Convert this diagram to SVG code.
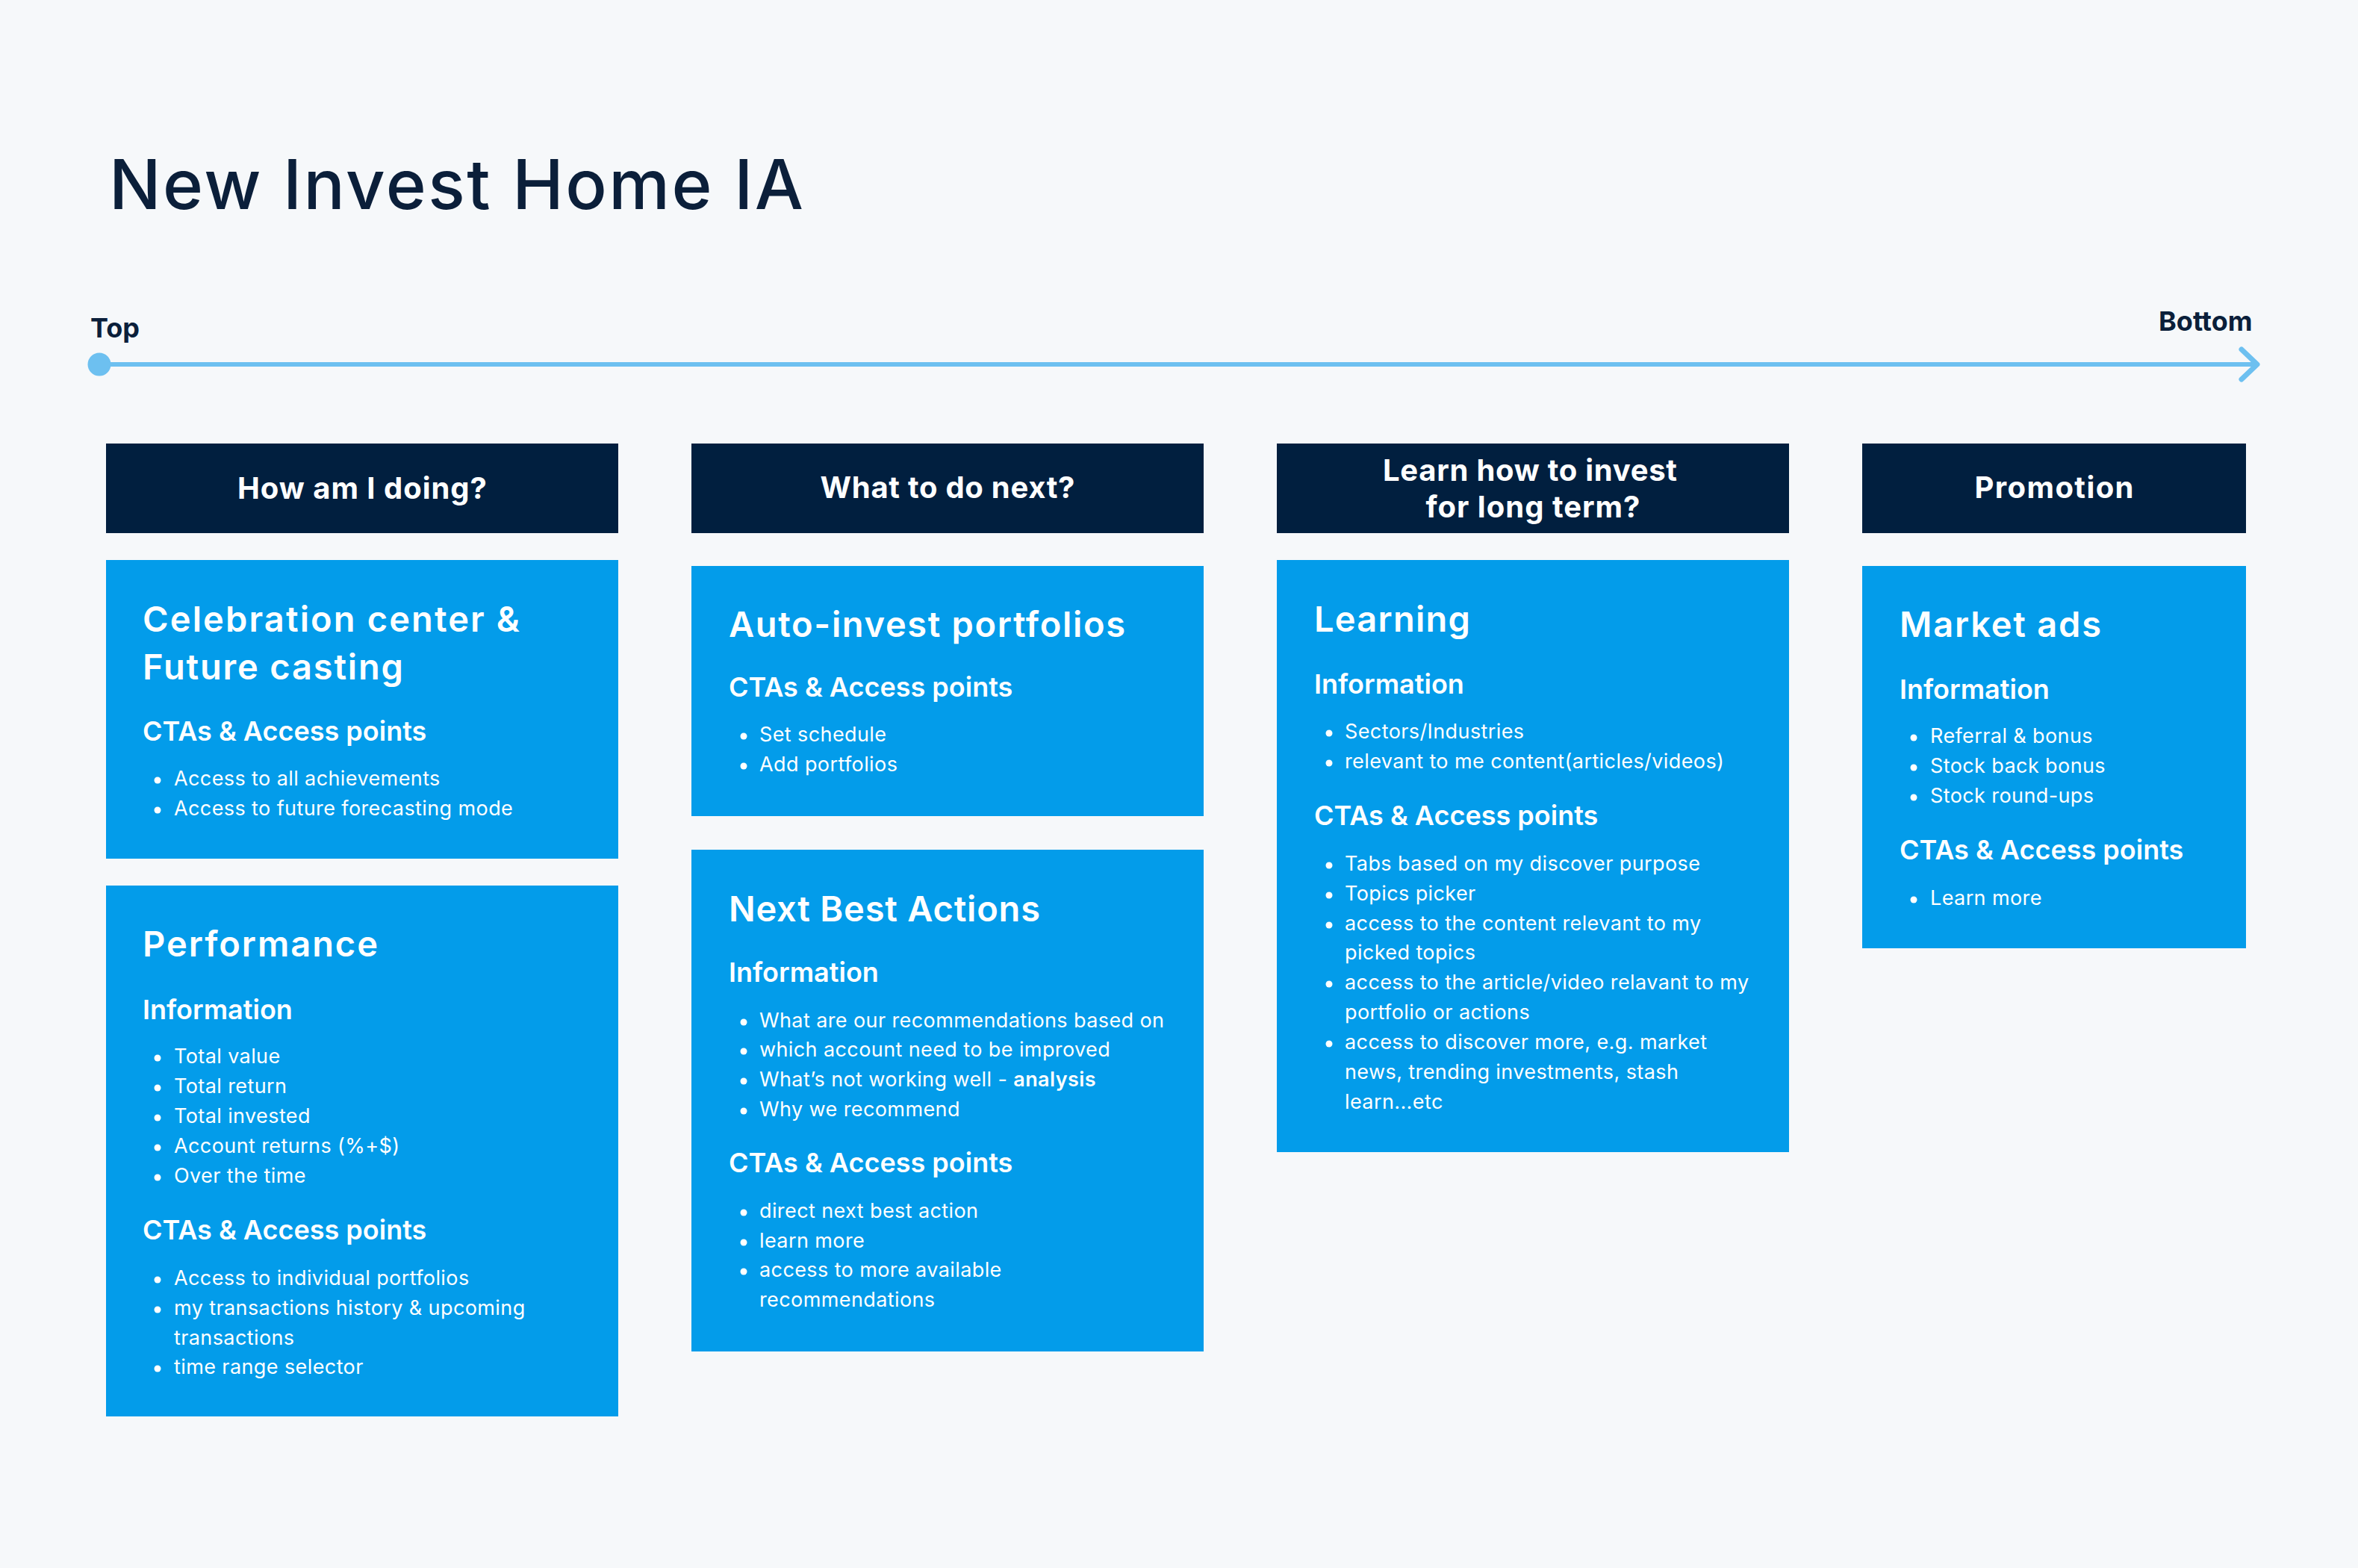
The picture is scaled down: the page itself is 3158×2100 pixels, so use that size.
<svg xmlns="http://www.w3.org/2000/svg" width="3158" height="2100" viewBox="0 0 3158 2100">
<style>
.hdr{fill:#011F3F}
.card{fill:#039CEA}
.ht{font-family:Inter,"Open Sans",sans-serif;font-weight:700;font-size:40px;fill:#fff;text-anchor:middle}
.ct{font-family:Inter,"Open Sans",sans-serif;font-weight:600;font-size:47px;fill:#fff}
.st{font-family:Inter,"Open Sans",sans-serif;font-weight:600;font-size:36px;fill:#fff}
.bt{font-family:Inter,"Open Sans",sans-serif;font-weight:400;font-size:27px;letter-spacing:0.4px;fill:#fff}
.b{font-weight:600}
.dot{fill:#fff}
.lbl{font-family:Inter,"Open Sans",sans-serif;font-weight:700;font-size:36px;fill:#0B1F3A}
</style>
<rect width="3158" height="2100" fill="#F6F8FA"/>
<text x="146" y="280" font-family="Inter,'Liberation Sans',sans-serif" font-size="92" font-weight="500" fill="#0B1F3A" textLength="930" lengthAdjust="spacing">New Invest Home IA</text>

<g id="timeline">
<text class="lbl" x="121" y="452">Top</text>
<text class="lbl" x="2891" y="443">Bottom</text>
<line x1="133" y1="488" x2="3022" y2="488" stroke="#6DC0F0" stroke-width="6"/>
<polyline points="3002,468 3023,488 3002,508" fill="none" stroke="#6DC0F0" stroke-width="7" stroke-linecap="round" stroke-linejoin="round"/>
<circle cx="133" cy="488" r="15.5" fill="#6DC0F0"/>
</g>

<g id="h1"><rect class="hdr" x="142" y="594" width="686" height="120"/><text class="ht" x="485" y="668" textLength="334" lengthAdjust="spacing">How am I doing?</text></g>
<g id="h2"><rect class="hdr" x="926" y="594" width="686" height="120"/><text class="ht" x="1269" y="667" textLength="341" lengthAdjust="spacing">What to do next?</text></g>
<g id="h3"><rect class="hdr" x="1710" y="594" width="686" height="120"/><text class="ht" x="2049" y="644" textLength="394" lengthAdjust="spacing">Learn how to invest</text><text class="ht" x="2053" y="693" textLength="287" lengthAdjust="spacing">for long term?</text></g>
<g id="h4"><rect class="hdr" x="2494" y="594" width="514" height="120"/><text class="ht" x="2751" y="667" textLength="213" lengthAdjust="spacing">Promotion</text></g>

<g id="celebration">
<rect class="card" x="142" y="750" width="686" height="400"/>
<text class="ct" x="191" y="846" textLength="505" lengthAdjust="spacing">Celebration center &amp;</text>
<text class="ct" x="191" y="910" textLength="349" lengthAdjust="spacing">Future casting</text>
<text class="st" x="191" y="992">CTAs &amp; Access points</text>
<circle class="dot" cx="211" cy="1045" r="4.5"/><text class="bt" x="233" y="1052">Access to all achievements</text>
<circle class="dot" cx="211" cy="1085" r="4.5"/><text class="bt" x="233" y="1092">Access to future forecasting mode</text>
</g>

<g id="performance">
<rect class="card" x="142" y="1186" width="686" height="711"/>
<text class="ct" x="191" y="1281" textLength="315" lengthAdjust="spacing">Performance</text>
<text class="st" x="191" y="1365">Information</text>
<circle class="dot" cx="211" cy="1417" r="4.5"/><text class="bt" x="233" y="1424">Total value</text>
<circle class="dot" cx="211" cy="1457" r="4.5"/><text class="bt" x="233" y="1464">Total return</text>
<circle class="dot" cx="211" cy="1497" r="4.5"/><text class="bt" x="233" y="1504">Total invested</text>
<circle class="dot" cx="211" cy="1537" r="4.5"/><text class="bt" x="233" y="1544">Account returns (%+$)</text>
<circle class="dot" cx="211" cy="1577" r="4.5"/><text class="bt" x="233" y="1584">Over the time</text>
<text class="st" x="191" y="1660">CTAs &amp; Access points</text>
<circle class="dot" cx="211" cy="1714" r="4.5"/><text class="bt" x="233" y="1721">Access to individual portfolios</text>
<circle class="dot" cx="211" cy="1754" r="4.5"/><text class="bt" x="233" y="1761">my transactions history &amp; upcoming</text>
<text class="bt" x="233" y="1801">transactions</text>
<circle class="dot" cx="211" cy="1833" r="4.5"/><text class="bt" x="233" y="1840">time range selector</text>
</g>

<g id="autoinvest">
<rect class="card" x="926" y="758" width="686" height="335"/>
<text class="ct" x="976" y="853" textLength="531" lengthAdjust="spacing">Auto-invest portfolios</text>
<text class="st" x="976" y="933">CTAs &amp; Access points</text>
<circle class="dot" cx="996" cy="986" r="4.5"/><text class="bt" x="1017" y="993">Set schedule</text>
<circle class="dot" cx="996" cy="1026" r="4.5"/><text class="bt" x="1017" y="1033">Add portfolios</text>
</g>

<g id="nextbest">
<rect class="card" x="926" y="1138" width="686" height="672"/>
<text class="ct" x="976" y="1234" textLength="417" lengthAdjust="spacing">Next Best Actions</text>
<text class="st" x="976" y="1315">Information</text>
<circle class="dot" cx="996" cy="1369" r="4.5"/><text class="bt" x="1017" y="1376">What are our recommendations based on</text>
<circle class="dot" cx="996" cy="1408" r="4.5"/><text class="bt" x="1017" y="1415">which account need to be improved</text>
<circle class="dot" cx="996" cy="1448" r="4.5"/><text class="bt" x="1017" y="1455">What’s not working well - <tspan class="b">analysis</tspan></text>
<circle class="dot" cx="996" cy="1488" r="4.5"/><text class="bt" x="1017" y="1495">Why we recommend</text>
<text class="st" x="976" y="1570">CTAs &amp; Access points</text>
<circle class="dot" cx="996" cy="1624" r="4.5"/><text class="bt" x="1017" y="1631">direct next best action</text>
<circle class="dot" cx="996" cy="1664" r="4.5"/><text class="bt" x="1017" y="1671">learn more</text>
<circle class="dot" cx="996" cy="1703" r="4.5"/><text class="bt" x="1017" y="1710">access to more available</text>
<text class="bt" x="1017" y="1750">recommendations</text>
</g>

<g id="learning">
<rect class="card" x="1710" y="750" width="686" height="793"/>
<text class="ct" x="1760" y="846" textLength="209" lengthAdjust="spacing">Learning</text>
<text class="st" x="1760" y="929">Information</text>
<circle class="dot" cx="1780" cy="982" r="4.5"/><text class="bt" x="1801" y="989">Sectors/Industries</text>
<circle class="dot" cx="1780" cy="1022" r="4.5"/><text class="bt" x="1801" y="1029">relevant to me content(articles/videos)</text>
<text class="st" x="1760" y="1105">CTAs &amp; Access points</text>
<circle class="dot" cx="1780" cy="1159" r="4.5"/><text class="bt" x="1801" y="1166">Tabs based on my discover purpose</text>
<circle class="dot" cx="1780" cy="1199" r="4.5"/><text class="bt" x="1801" y="1206">Topics picker</text>
<circle class="dot" cx="1780" cy="1239" r="4.5"/><text class="bt" x="1801" y="1246">access to the content relevant to my</text>
<text class="bt" x="1801" y="1285">picked topics</text>
<circle class="dot" cx="1780" cy="1318" r="4.5"/><text class="bt" x="1801" y="1325">access to the article/video relavant to my</text>
<text class="bt" x="1801" y="1365">portfolio or actions</text>
<circle class="dot" cx="1780" cy="1398" r="4.5"/><text class="bt" x="1801" y="1405">access to discover more, e.g. market</text>
<text class="bt" x="1801" y="1445">news, trending investments, stash</text>
<text class="bt" x="1801" y="1485">learn...etc</text>
</g>

<g id="marketads">
<rect class="card" x="2494" y="758" width="514" height="512"/>
<text class="ct" x="2544" y="853" textLength="270" lengthAdjust="spacing">Market ads</text>
<text class="st" x="2544" y="936">Information</text>
<circle class="dot" cx="2563" cy="988" r="4.5"/><text class="bt" x="2585" y="995">Referral &amp; bonus</text>
<circle class="dot" cx="2563" cy="1028" r="4.5"/><text class="bt" x="2585" y="1035">Stock back bonus</text>
<circle class="dot" cx="2563" cy="1068" r="4.5"/><text class="bt" x="2585" y="1075">Stock round-ups</text>
<text class="st" x="2544" y="1151">CTAs &amp; Access points</text>
<circle class="dot" cx="2563" cy="1205" r="4.5"/><text class="bt" x="2585" y="1212">Learn more</text>
</g>
</svg>
